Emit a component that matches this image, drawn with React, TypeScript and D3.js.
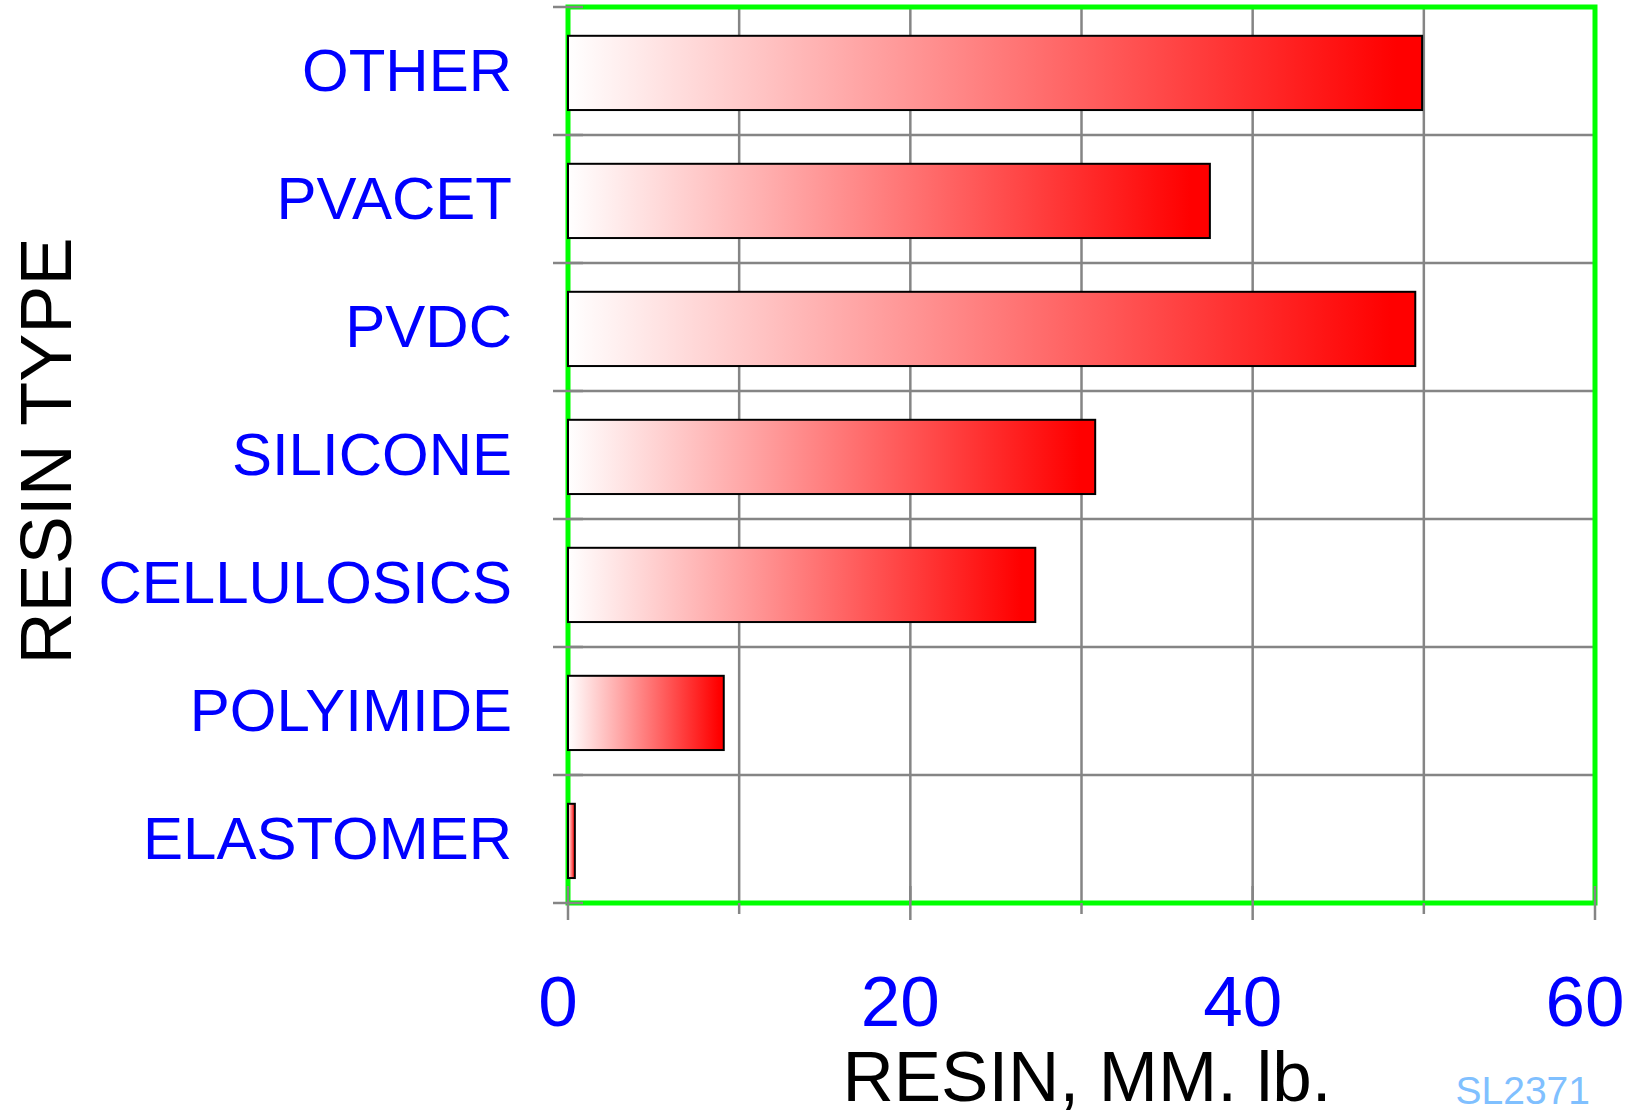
import React from "react";
import * as d3 from "d3";

const categories = ["OTHER", "PVACET", "PVDC", "SILICONE", "CELLULOSICS", "POLYIMIDE", "ELASTOMER"];
const values = [49.9, 37.5, 49.5, 30.8, 27.3, 9.1, 0.4];
const xTicks = [0, 10, 20, 30, 40, 50, 60];
const xTickLabels = [0, 20, 40, 60];
const xTitle = "RESIN, MM. lb.";
const yTitle = "RESIN TYPE";
const code = "SL2371";

const W = 1642;
const H = 1117;
const FONT = "'Liberation Sans', Arial, Helvetica, sans-serif";

export default function App() {
  const x = d3.scaleLinear().domain([0, 60]).range([568, 1595]);
  const y = d3.scaleBand<string>().domain(categories).range([7, 903]).padding(0);
  const step = y.step();
  const boundaries = d3.range(categories.length + 1).map((i) => 7 + i * step);
  const [x0, x1] = x.range();
  const [y0, y1] = y.range();

  return (
    <svg
      width={W}
      height={H}
      style={{ position: "absolute", left: 0, top: 0, background: "#fff" }}
      fontFamily={FONT}
    >
      <defs>
        <linearGradient id="barGrad" x1="0" y1="0" x2="1" y2="0">
          <stop offset="0" stopColor="#ffffff" />
          <stop offset="0.97" stopColor="#ff0000" />
          <stop offset="1" stopColor="#ff0000" />
        </linearGradient>
      </defs>
      <rect x={0} y={0} width={W} height={H} fill="#fff" />
      {/* grid */}
      {xTicks.map((t) => (
        <line key={"gx" + t} x1={x(t)} x2={x(t)} y1={y0} y2={y1} stroke="#858585" strokeWidth={2.5} />
      ))}
      {boundaries.map((b, i) => (
        <line key={"gy" + i} x1={x0} x2={x1} y1={b} y2={b} stroke="#858585" strokeWidth={2.5} />
      ))}
      {/* frame */}
      <rect x={x0} y={y0} width={x1 - x0} height={y1 - y0} fill="none" stroke="#00ff00" strokeWidth={5} />
      {/* bars */}
      {categories.map((c, i) => (
        <rect
          key={c}
          x={x(0)}
          y={(y(c) as number) + step * 0.225}
          width={x(values[i]) - x(0)}
          height={step * 0.58}
          fill="url(#barGrad)"
          stroke="#000"
          strokeWidth={2}
        />
      ))}
      {/* ticks */}
      {boundaries.map((b, i) => (
        <line key={"ty" + i} x1={x0 - 15} x2={x0 + 15} y1={b} y2={b} stroke="#858585" strokeWidth={2.5} />
      ))}
      {xTicks.map((t) => {
        const major = xTickLabels.includes(t);
        return (
          <line
            key={"tx" + t}
            x1={x(t)}
            x2={x(t)}
            y1={major ? y1 - 17 : y1}
            y2={major ? y1 + 17 : y1 + 11}
            stroke="#858585"
            strokeWidth={2.5}
          />
        );
      })}
      {/* category labels */}
      {categories.map((c) => (
        <text
          key={"l" + c}
          x={512}
          y={(y(c) as number) + step / 2 + 20}
          textAnchor="end"
          fill="#0000ff"
          fontSize={60}
        >
          {c}
        </text>
      ))}
      {/* x tick labels */}
      {xTickLabels.map((t) => (
        <text key={"xl" + t} x={x(t) - 10} y={1026} textAnchor="middle" fill="#0000ff" fontSize={71}>
          {t}
        </text>
      ))}
      <text x={1087} y={1101} textAnchor="middle" fill="#000" fontSize={71}>
        {xTitle}
      </text>
      <text
        transform={`translate(71, 451) rotate(-90)`}
        textAnchor="middle"
        fill="#000"
        fontSize={72}
      >
        {yTitle}
      </text>
      <text x={1590} y={1104} textAnchor="end" fill="#80c0ff" fontSize={39}>
        {code}
      </text>
    </svg>
  );
}
